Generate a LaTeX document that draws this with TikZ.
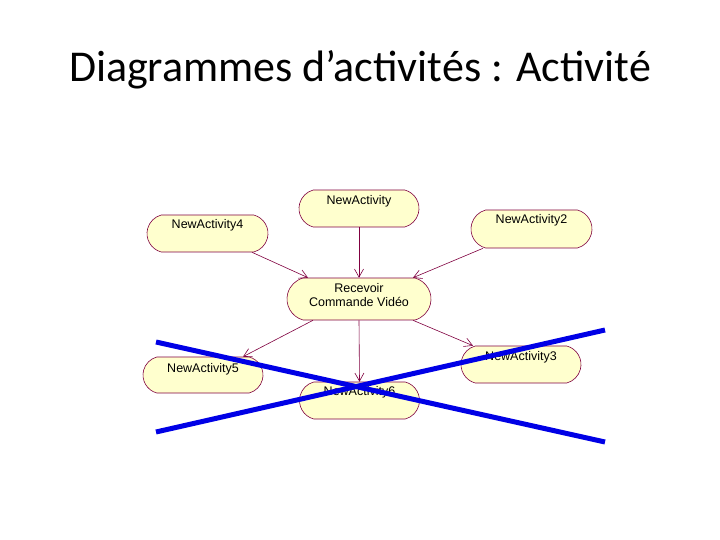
\documentclass[tikz,border=0pt]{standalone}
\usepackage{fontspec}
\setmainfont{Liberation Sans}
\newfontfamily\titlefont{Carlito}
\usetikzlibrary{arrows.meta,calc,shapes.misc}
\definecolor{actfill}{RGB}{255,255,206}
\definecolor{actdraw}{RGB}{128,0,64}
\definecolor{crossblue}{RGB}{0,0,230}
\begin{document}
\begin{tikzpicture}[x=1pt,y=-1pt,
  act/.style={rounded rectangle,rounded rectangle arc length=150,draw=actdraw,fill=actfill,minimum width=120pt,
    inner sep=0pt,font=\fontsize{12.5}{14}\selectfont,line width=0.6pt},
  flow/.style={draw=actdraw,line width=0.6pt,-{Straight Barb[length=8pt,width=9pt]}},
  cross/.style={draw=crossblue,line width=5pt}]
\useasboundingbox (0,0) rectangle (720,540);
\fill[white] (0,0) rectangle (720,540);
\node[font=\titlefont\fontsize{44}{52}\selectfont,anchor=base] (title) at (360,82) {Diagrammes d’activités : Activité};

\node[act,text height=15pt,text depth=22pt] (na) at (359,208.5) {NewActivity};
\node[act,text height=14pt,text depth=23pt,minimum width=121pt] (na4) at (207.5,233.5) {NewActivity4};
\node[act,text height=13pt,text depth=25pt,minimum width=121pt] (na2) at (531.5,229) {NewActivity2};
\node[act,minimum width=144pt,minimum height=42pt] (rec) at (359,299) {};
\node[font=\fontsize{12.5}{14}\selectfont,align=center,inner sep=0pt] (rect) at (359,295) {Recevoir\\Commande Vidéo};
\node[act,text height=15pt,text depth=21pt] (na5) at (203,375) {NewActivity5};
\node[act,text height=14pt,text depth=23pt] (na3) at (521,364.5) {NewActivity3};
\node[act,text height=13pt,text depth=24pt] (na6) at (359.5,400.5) {NewActivity6};

\draw[flow] (na.south) -- (rec.north);
\draw[flow] ([xshift=44.5pt]na4.south) -- ([xshift=-51pt]rec.north);
\draw[flow] ([xshift=-48.5pt]na2.south) -- ([xshift=54pt]rec.north);
\draw[flow] ([xshift=-46pt]rec.south) -- ([xshift=40pt]na5.north);
\draw[flow] (rec.south) -- (na6.north);
\draw[flow] ([xshift=54pt]rec.south) -- ([xshift=-48pt]na3.north);

\draw[cross] (156,342) -- (605,442);
\draw[cross] (156,432) -- (605,330);
\end{tikzpicture}
\end{document}
